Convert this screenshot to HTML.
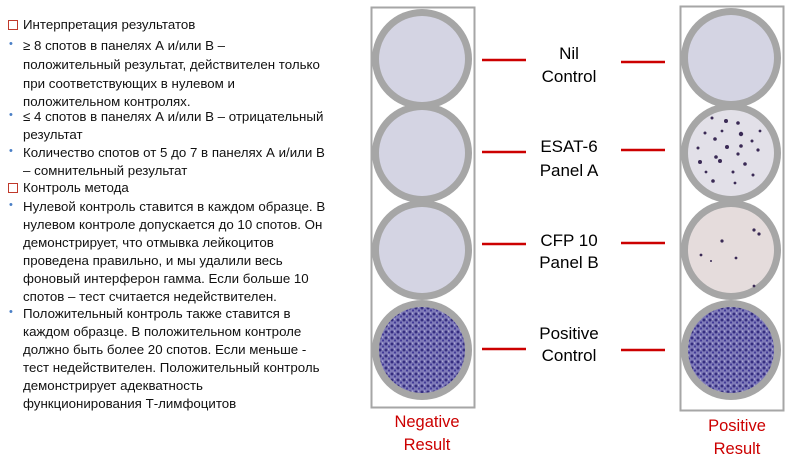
<!DOCTYPE html>
<html><head><meta charset="utf-8"><style>
body{margin:0;width:792px;height:465px;background:#fff;overflow:hidden;position:relative;font-family:"Liberation Sans","DejaVu Sans",sans-serif}
.t{position:absolute;left:23px;font-size:13.3px;color:#111;white-space:nowrap;line-height:18px}
.b{position:absolute;left:9px;font-size:11px;color:#4a7fc6}
.sq{position:absolute;left:8px;width:8px;height:8px;border:1.3px solid #c0392b}
svg{position:absolute;left:0;top:0}
</style></head><body>
<div>
<div class="sq" style="top:20px"></div>
<div class="t" style="top:16px">Интерпретация  результатов</div>
<div class="b" style="top:38px">•</div>
<div class="t" style="top:37px">≥  8   спотов в панелях А и/или В –</div>
<div class="t" style="top:56px">положительный результат, действителен только</div>
<div class="t" style="top:75px">при  соответствующих в нулевом и</div>
<div class="t" style="top:93px">положительном контролях.</div>
<div class="b" style="top:109px">•</div>
<div class="t" style="top:108px">≤ 4 спотов в панелях А и/или В – отрицательный</div>
<div class="t" style="top:126px">результат</div>
<div class="b" style="top:145px">•</div>
<div class="t" style="top:144px">Количество спотов от 5 до 7 в панелях А и/или В</div>
<div class="t" style="top:162px">– сомнительный результат</div>
<div class="sq" style="top:183px"></div>
<div class="t" style="top:179px">Контроль метода</div>
<div class="b" style="top:199px">•</div>
<div class="t" style="top:198px">Нулевой контроль ставится в каждом образце. В</div>
<div class="t" style="top:216px">нулевом контроле допускается до 10 спотов. Он</div>
<div class="t" style="top:234px">демонстрирует, что отмывка лейкоцитов</div>
<div class="t" style="top:252px">проведена правильно, и мы удалили весь</div>
<div class="t" style="top:270px">фоновый интерферон гамма. Если больше 10</div>
<div class="t" style="top:288px">спотов – тест  считается недействителен.</div>
<div class="b" style="top:306px">•</div>
<div class="t" style="top:305px">Положительный контроль также ставится в</div>
<div class="t" style="top:323px">каждом образце. В  положительном контроле</div>
<div class="t" style="top:341px">должно быть более 20 спотов. Если меньше  -</div>
<div class="t" style="top:359px">тест недействителен. Положительный контроль</div>
<div class="t" style="top:377px">демонстрирует адекватность</div>
<div class="t" style="top:395px">функционирования Т-лимфоцитов</div>
</div>
<svg width="792" height="465">
<defs>
<pattern id="dots" width="6" height="6" patternUnits="userSpaceOnUse">
<rect width="6" height="6" fill="#7e7ab8"/>
<circle cx="2" cy="2" r="1.5" fill="#352d80"/><circle cx="5" cy="4.5" r="1.1" fill="#423a98"/><circle cx="4.5" cy="1.2" r="0.7" fill="#b4b2dc"/>
</pattern>
</defs>
<rect x="371.5" y="7.5" width="103" height="400" fill="none" stroke="#a6a6a6" stroke-width="2"/>
<rect x="680.5" y="6.5" width="103" height="404" fill="none" stroke="#a6a6a6" stroke-width="2"/>
<g fill="#a6a6a6">
<circle cx="422" cy="59" r="50"/><circle cx="422" cy="153" r="50"/><circle cx="422" cy="250" r="50"/><circle cx="422" cy="350" r="50"/>
<circle cx="731" cy="58" r="50"/><circle cx="731" cy="153" r="50"/><circle cx="731" cy="250" r="50"/><circle cx="731" cy="350" r="50"/>
</g>
<g fill="#d4d4e3">
<circle cx="422" cy="59" r="43"/>
<circle cx="422" cy="153" r="43"/>
<circle cx="422" cy="250" r="43"/>
<circle cx="731" cy="58" r="43"/>
</g>
<circle cx="731" cy="153" r="43" fill="#e2e0e8"/>
<circle cx="731" cy="250" r="43" fill="#e5dcdc"/>
<circle cx="422" cy="350" r="43" fill="url(#dots)"/>
<circle cx="731" cy="350" r="43" fill="url(#dots)"/>
<g fill="#3a2a55">
<circle cx="712" cy="118" r="1.5"/><circle cx="726" cy="121" r="2"/><circle cx="738" cy="123" r="1.8"/><circle cx="741" cy="134" r="2.2"/><circle cx="705" cy="133" r="1.5"/><circle cx="715" cy="139" r="1.8"/><circle cx="727" cy="147" r="2"/><circle cx="698" cy="148" r="1.5"/><circle cx="741" cy="146" r="1.8"/><circle cx="752" cy="141" r="1.5"/><circle cx="758" cy="150" r="1.6"/><circle cx="716" cy="157" r="1.8"/><circle cx="738" cy="154" r="1.6"/><circle cx="720" cy="161" r="2"/><circle cx="745" cy="164" r="1.8"/><circle cx="700" cy="162" r="2"/><circle cx="733" cy="172" r="1.5"/><circle cx="753" cy="175" r="1.5"/><circle cx="713" cy="181" r="1.8"/><circle cx="735" cy="183" r="1.4"/><circle cx="760" cy="131" r="1.4"/><circle cx="722" cy="131" r="1.4"/><circle cx="706" cy="172" r="1.4"/>
<circle cx="754" cy="230" r="1.6"/><circle cx="759" cy="234" r="1.6"/><circle cx="722" cy="241" r="1.6"/><circle cx="701" cy="255" r="1.4"/><circle cx="736" cy="258" r="1.4"/><circle cx="711" cy="261" r="1"/><circle cx="754" cy="286" r="1.4"/>
</g>
<g stroke="#cc0000" stroke-width="2.5">
<line x1="482" y1="60" x2="526" y2="60"/><line x1="621" y1="62" x2="665" y2="62"/>
<line x1="482" y1="152" x2="526" y2="152"/><line x1="621" y1="150" x2="665" y2="150"/>
<line x1="482" y1="244" x2="526" y2="244"/><line x1="621" y1="243" x2="665" y2="243"/>
<line x1="482" y1="349" x2="526" y2="349"/><line x1="621" y1="350" x2="665" y2="350"/>
</g>
<g font-family="Liberation Sans, sans-serif" font-size="17" text-anchor="middle" fill="#000">
<text x="569" y="59">Nil</text><text x="569" y="82">Control</text>
<text x="569" y="152">ESAT-6</text><text x="569" y="176">Panel A</text>
<text x="569" y="246">CFP 10</text><text x="569" y="268">Panel B</text>
<text x="569" y="339">Positive</text><text x="569" y="361">Control</text>
</g>
<g font-family="Liberation Sans, sans-serif" font-size="16.5" text-anchor="middle" fill="#cc0000">
<text x="427" y="427">Negative</text><text x="427" y="450">Result</text>
<text x="737" y="431">Positive</text><text x="737" y="454">Result</text>
</g>
</svg>
</body></html>
